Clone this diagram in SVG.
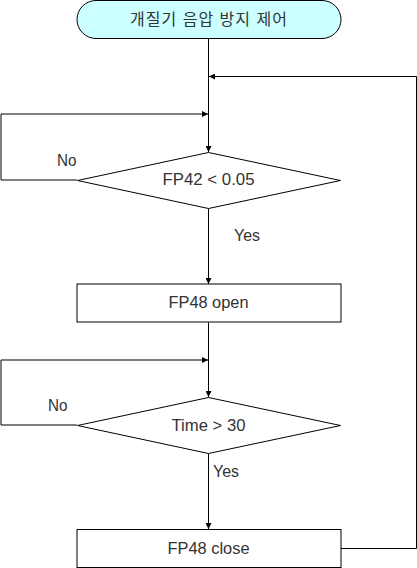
<svg xmlns="http://www.w3.org/2000/svg" width="417" height="568" viewBox="0 0 417 568">
<style>
.ln{fill:none;stroke:#000;stroke-width:1}
.shp{stroke:#000;stroke-width:1}
.t{font-family:"Liberation Sans","Noto Sans CJK KR",sans-serif;font-size:16px;fill:#333;text-anchor:middle}
.lb{font-family:"Liberation Sans",sans-serif;font-size:16px;fill:#333}
</style>
<defs>
<marker id="ah" viewBox="0 0 10 10" refX="10" refY="5" markerWidth="6" markerHeight="6" markerUnits="userSpaceOnUse" orient="auto">
<path d="M0,0 L10,5 L0,10 z" fill="#000"/>
</marker>
</defs>
<g id="connectors">
<path class="ln" d="M208.5,38.5 V152" marker-end="url(#ah)"/>
<path class="ln" d="M416.5,548.5 V76.5 H209" marker-end="url(#ah)"/>
<path class="ln" d="M77,180 H1 V114 H208" marker-end="url(#ah)"/>
<path class="ln" d="M208.5,208.5 V284" marker-end="url(#ah)"/>
<path class="ln" d="M208.5,322.5 V397" marker-end="url(#ah)"/>
<path class="ln" d="M77,425 H1 V360 H208" marker-end="url(#ah)"/>
<path class="ln" d="M208.5,453.5 V529" marker-end="url(#ah)"/>
<path class="ln" d="M341,548.5 H416.5"/>
<text class="lb" x="57" y="166" textLength="19.5" lengthAdjust="spacingAndGlyphs">No</text>
<text class="lb" x="234" y="241" textLength="26" lengthAdjust="spacingAndGlyphs">Yes</text>
<text class="lb" x="48" y="411" textLength="19.5" lengthAdjust="spacingAndGlyphs">No</text>
<text class="lb" x="213" y="477" textLength="26" lengthAdjust="spacingAndGlyphs">Yes</text>
</g>
<g id="start">
<rect class="shp" x="77" y="0.5" width="264" height="38" rx="19" ry="19" fill="#ccffff"/>
<text class="t" x="208.5" y="25" textLength="157" lengthAdjust="spacing">개질기 음압 방지 제어</text>
</g>
<g id="cond1">
<polygon class="shp" points="208.5,152.5 340.5,180.5 208.5,208.5 77.5,180.5" fill="#fff"/>
<text class="t" x="208.5" y="185" textLength="92" lengthAdjust="spacingAndGlyphs">FP42 &lt; 0.05</text>
</g>
<g id="open">
<rect class="shp" x="77" y="284" width="264" height="38" fill="#fff"/>
<text class="t" x="208.5" y="308" textLength="80" lengthAdjust="spacingAndGlyphs">FP48 open</text>
</g>
<g id="cond2">
<polygon class="shp" points="208.5,397.5 340.5,425.5 208.5,453.5 77.5,425.5" fill="#fff"/>
<text class="t" x="208.5" y="431" textLength="74" lengthAdjust="spacingAndGlyphs">Time &gt; 30</text>
</g>
<g id="close">
<rect class="shp" x="77" y="529.5" width="264" height="38" fill="#fff"/>
<text class="t" x="208.5" y="554" textLength="82" lengthAdjust="spacingAndGlyphs">FP48 close</text>
</g>
</svg>
